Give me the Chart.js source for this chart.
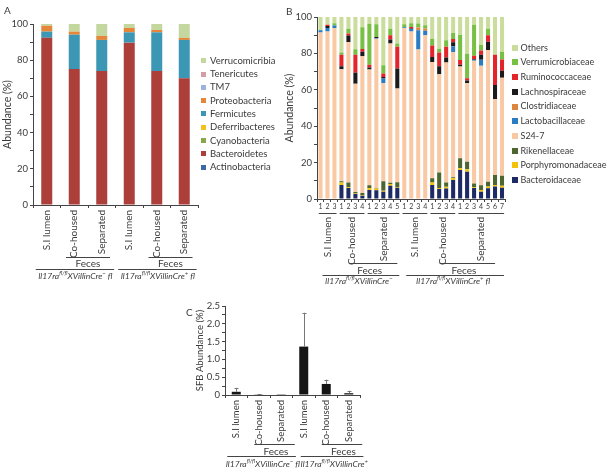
<!DOCTYPE html>
<html><head><meta charset="utf-8">
<script src="https://cdn.jsdelivr.net/npm/chart.js@4.4.0/dist/chart.umd.min.js"></script>
<style>
html,body{margin:0;padding:0;background:#fff;width:611px;height:470px;overflow:hidden}
canvas{position:absolute;display:block}
</style></head><body>
<canvas id="ca" width="280" height="295" style="left:0;top:0"></canvas>
<canvas id="cb" width="331" height="295" style="left:280px;top:0"></canvas>
<canvas id="cc" width="200" height="175" style="left:180px;top:295px"></canvas>
<script>
// ===== Panel A data (phylum level, % abundance) =====
const groupsA = ["S.I lumen","Co-housed","Separated","S.I lumen","Co-housed","Separated"];
const phylaA = ["Actinobacteria","Bacteroidetes","Cyanobacteria","Deferribacteres","Fermicutes","Proteobacteria","TM7","Tenericutes","Verrucomicribia"];
const actinobacteria  = [0,0,0,0,0,0];
const bacteroidetes   = [92.4,75.1,74.0,89.7,74.0,70.0];
const cyanobacteria   = [0,0,0,0,0,0];
const deferribacteres = [0,0,0,0,0,0];
const fermicutes      = [3.4,19.0,17.2,5.7,21.4,21.2];
const proteobacteria  = [3.2,1.7,2.2,2.4,1.3,1.1];
const tm7             = [0,0,0,0,0,0];
const tenericutes     = [0,0,0,0,0,0];
const verrucomicrobia = [1.0,4.2,6.6,2.2,3.3,7.7];
const yTicksA = [0,20,40,60,80,100];

// ===== Panel B data (family level, % abundance) =====
const sampleLabelsB = ["1","2","3","1","2","3","4","1","2","3","4","5","1","2","3","4","1","2","3","4","1","2","3","4","5","6","7"];
const groupNamesB = ["S.I lumen","Co-housed","Separated","S.I lumen","Co-housed","Separated"];
const groupSizesB = [3,4,5,4,4,7];
const familiesB = ["Bacteroidaceae","Porphyromonadaceae","Rikenellaceae","S24-7","Lactobacillaceae","Clostridiaceae","Lachnospiraceae","Ruminococcaceae","Verrumicrobiaceae","Others"];
const bacteroidaceae     = [0,0,0, 7.7,6,2.8,1.8, 4.9,4.8,4,7.3,6.2, 0,0,0,0, 7.7,5.5,5.8,10.5, 16,15,6,4,5.9,6.8,6.2];
const porphyromonadaceae = [0,0,0, 1.3,0.5,0.2,0.3, 1.2,1,0.5,0.9,0.4, 0,0,0,0, 1.3,0.5,0.9,1, 0.9,1.3,0.5,0.9,0.9,0.9,1.1];
const rikenellaceae      = [0,0,0, 0.8,2.5,0.8,1.2, 1.4,0.2,5.3,0.7,2.6, 0,0,0,0, 2.4,8.5,2.3,0.5, 5.5,4.2,2,2.7,2.7,5.5,5.5];
const s24_7              = [91.5,92,94, 61.5,77.3,59.5,75.2, 63.6,82,54,76.5,51.5, 94,92,82.1,90, 63.9,54,66,68.6, 50.4,43.3,67.5,65.6,72.3,41.8,53.8];
const lactobacillaceae   = [1.2,2,1.3, 0,0,0,0, 0,0.4,2.4,0,0, 0.4,1.4,10.6,2.4, 0,0,0,3.3, 0,0,0.5,3.3,0,0,0];
const clostridiaceae     = [0,0,0, 0,0,0,0, 0,0,0,0,0, 0,0,1.5,1.3, 0,0,0,0, 0,0,0,0,0,0,0];
const lachnospiraceae    = [0,1,0, 1.6,3.6,6,2.4, 1.1,0.6,0.9,2.2,11, 0,0.3,0,0, 2.7,4.5,2.7,2.2, 0.9,1.3,0.4,2.7,4.6,7.7,3.8];
const ruminococcaceae    = [0,0.7,0, 6.4,1,10,1.5, 1.6,0,1.8,2.4,11.9, 0,0.8,0,0, 6.4,7.5,6,1.8, 2.7,1.3,1.8,2.4,3.6,16.5,6.2];
const verrumicrobiaceae  = [0.3,0,1.2, 1.2,2.7,3,12, 22.5,7,4.6,3.6,1.8, 1.6,2,2.2,1.8, 3.7,2,3.5,3.3, 13.7,13.4,17,3,3.6,0,4.3];
const others             = [7,4.3,3.5, 19.5,6.4,17.7,5.6, 3.7,4,26.5,6.4,14.6, 4,3.5,3.6,4.5, 11.9,17.5,12.8,8.8, 9.9,20.2,4.3,15.4,6.4,20.8,19.1];
const yTicksB = [0,20,40,60,80,100];

// ===== Panel C data (SFB abundance, mean and upper error) =====
const groupsC = ["S.I lumen","Co-housed","Separated","S.I lumen","Co-housed","Separated"];
const sfbMean = [0.09,0.02,0.005,1.36,0.31,0.05];
const sfbErr  = [0.11,0.01,0,0.95,0.12,0.07];
const yTicksC = [0,0.5,1.0,1.5,2.0,2.5];

// ===== styling =====
const FONT = "Lato, 'Noto Sans', sans-serif";
const TXT = '#3a3a3a';
const AX = '#444';
const colorsA = ['#3d6aa6','#ad3f3b','#86a84a','#f2c21b','#3b97b3','#e5863a','#9db2de','#d49ea6','#c4d79f'];
const colorsB = ['#1e2a66','#f4c20d','#4d6630','#f8c9a4','#2a7cc3','#dc8640','#1b1b1b','#e3242b','#78c043','#cadd9c'];

const seriesA = [actinobacteria,bacteroidetes,cyanobacteria,deferribacteres,fermicutes,proteobacteria,tm7,tenericutes,verrucomicrobia];
const seriesB = [bacteroidaceae,porphyromonadaceae,rikenellaceae,s24_7,lactobacillaceae,clostridiaceae,lachnospiraceae,ruminococcaceae,verrumicrobiaceae,others];

const genoMinus = [["Il17ra",8.5,0],["fl/fl",5.5,-3],["XVillinCre",8.5,0],["\u2212",6,-3],[" fl",8.5,0]];
const genoPlus  = [["Il17ra",8.5,0],["fl/fl",5.5,-3],["XVillinCre",8.5,0],["+",6,-3],[" fl",8.5,0]];

// ===== helpers =====
function rotText(ctx, text, x, y, size){
  ctx.save(); ctx.translate(x,y); ctx.rotate(-Math.PI/2);
  ctx.font = size+'px '+FONT; ctx.textAlign='right'; ctx.textBaseline='middle'; ctx.fillStyle=TXT;
  ctx.fillText(text,0,0); ctx.restore();
}
function rotTitle(ctx, text, x, y, size){
  ctx.save(); ctx.translate(x,y); ctx.rotate(-Math.PI/2);
  ctx.font = size+'px '+FONT; ctx.textAlign='center'; ctx.textBaseline='middle'; ctx.fillStyle=TXT;
  ctx.fillText(text,0,0); ctx.restore();
}
function hline(ctx,x1,x2,y){
  ctx.save(); ctx.strokeStyle=AX; ctx.lineWidth=1; ctx.beginPath();
  ctx.moveTo(x1,Math.round(y)+0.5); ctx.lineTo(x2,Math.round(y)+0.5); ctx.stroke(); ctx.restore();
}
function ctext(ctx,text,x,y,size){
  ctx.save(); ctx.font=size+'px '+FONT; ctx.textAlign='center'; ctx.textBaseline='middle'; ctx.fillStyle=TXT;
  ctx.fillText(text,x,y); ctx.restore();
}
function rich(ctx, parts, cx, y){
  ctx.save(); let w=0; const ws=[];
  parts.forEach(p=>{ctx.font='italic '+p[1]+'px '+FONT; const m=ctx.measureText(p[0]).width; ws.push(m); w+=m;});
  let x=cx-w/2; ctx.fillStyle=TXT; ctx.textBaseline='middle'; ctx.textAlign='left';
  parts.forEach((p,i)=>{ctx.font='italic '+p[1]+'px '+FONT; ctx.fillText(p[0],x,y+p[2]); x+=ws[i];});
  ctx.restore();
}
function drawLegend(ctx, names, colors, x, y0, dy, box, gap, size){
  ctx.save();
  for(let k=names.length-1, r=0; k>=0; k--, r++){
    const y=y0+r*dy;
    ctx.fillStyle=colors[k]; ctx.fillRect(x, Math.round(y-box/2), box, box);
    ctx.fillStyle=TXT; ctx.font=size+'px '+FONT; ctx.textAlign='left'; ctx.textBaseline='middle';
    ctx.fillText(names[k], x+box+gap, y);
  }
  ctx.restore();
}
function letter(ctx,t,x,y){ctx.save();ctx.font='10px '+FONT;ctx.fillStyle=TXT;ctx.textBaseline='middle';ctx.fillText(t,x,y);ctx.restore();}

function baseScales(xh, yw, yopts){
  return {
    x:{stacked:true, offset:true,
       grid:{drawOnChartArea:false, tickLength:3, color:AX, offset:true},
       border:{color:AX},
       ticks:{display:false},
       afterFit(s){s.height=xh;}},
    y:Object.assign({stacked:true,
       grid:{drawOnChartArea:false, tickLength:3, color:AX},
       border:{color:AX},
       afterFit(s){s.width=yw;}}, yopts)
  };
}

// ===== Panel A =====
const annA = {id:'annA', afterDraw(chart){
  const ctx=chart.ctx, xs=chart.scales.x, ca=chart.chartArea;
  const cw = xs.getPixelForValue(1)-xs.getPixelForValue(0);
  const b = ca.bottom;
  letter(ctx,'A',4,11);
  rotTitle(ctx,'Abundance (%)',8,(ca.top+ca.bottom)/2,10.5);
  groupsA.forEach((g,i)=>rotText(ctx,g,xs.getPixelForValue(i),b+5,10));
  [0,3].forEach(s=>{
    const x0=xs.getPixelForValue(s), x1=xs.getPixelForValue(s+1), x2=xs.getPixelForValue(s+2);
    hline(ctx,x1-0.3*cw,x2+0.3*cw,b+52);
    ctext(ctx,'Feces',(x1+x2)/2,b+58.5,10);
    hline(ctx,x0-0.4*cw,x2+0.45*cw,b+64);
    rich(ctx, s===0?genoMinus:genoPlus, (x0+x2)/2+1, b+71);
  });
  drawLegend(ctx, phylaA, colorsA, ca.right+3, 60.7, 13.3, 5, 4, 9.5);
}};
new Chart(document.getElementById('ca'), {
  type:'bar',
  data:{labels:groupsA, datasets:phylaA.map((n,i)=>({label:n,data:seriesA[i],backgroundColor:colorsA[i],borderWidth:0,barPercentage:0.4,categoryPercentage:1}))},
  options:{responsive:false, animation:false, events:[],
    layout:{padding:{left:0,top:24,right:82,bottom:0}},
    plugins:{legend:{display:false},tooltip:{enabled:false}},
    scales:baseScales(90,33,{min:0,max:100,
      ticks:{stepSize:10,autoSkip:false,font:{family:FONT,size:9.5},color:TXT,padding:2,
        callback:v=>yTicksA.includes(v)?String(v):''}})
  },
  plugins:[annA]
});

// ===== Panel B =====
const annB = {id:'annB', afterDraw(chart){
  const ctx=chart.ctx, xs=chart.scales.x, ca=chart.chartArea;
  const cw = xs.getPixelForValue(1)-xs.getPixelForValue(0);
  const b = ca.bottom;
  letter(ctx,'B',6,12);
  rotTitle(ctx,'Abundance (%)',10,(ca.top+ca.bottom)/2,10.5);
  let start=0; const spans=[];
  groupSizesB.forEach((n,gi)=>{
    const x0=xs.getPixelForValue(start), x1=xs.getPixelForValue(start+n-1);
    spans.push([x0,x1]);
    hline(ctx,x0-0.25*cw,x1+0.3*cw,b+14);
    rotText(ctx,groupNamesB[gi],(x0+x1)/2,b+18,10);
    start+=n;
  });
  [0,3].forEach(s=>{
    const co=spans[s+1], se=spans[s+2], si=spans[s];
    const cc=(co[0]+co[1])/2, sc=(se[0]+se[1])/2;
    hline(ctx,cc-3,sc+14,b+64);
    ctext(ctx,'Feces',(cc+sc)/2+2,b+71.5,10);
    hline(ctx,si[0]+2,se[1]+2,b+76);
    rich(ctx, s===0?genoMinus.slice(0,4):genoPlus, (si[0]+se[1])/2, b+82.5);
  });
  drawLegend(ctx, familiesB, colorsB, ca.right+6.5, 47.7, 14.7, 6, 2.5, 9);
}};
const scB = baseScales(96,37,{min:0,max:100,
  ticks:{stepSize:10,autoSkip:false,font:{family:FONT,size:9.5},color:TXT,padding:2,
    callback:v=>yTicksB.includes(v)?String(v):''}});
scB.x.ticks={display:true,autoSkip:false,maxRotation:0,minRotation:0,font:{family:FONT,size:7},color:TXT,padding:1};
new Chart(document.getElementById('cb'), {
  type:'bar',
  data:{labels:sampleLabelsB, datasets:familiesB.map((n,i)=>({label:n,data:seriesB[i],backgroundColor:colorsB[i],borderWidth:0,barPercentage:0.58,categoryPercentage:1}))},
  options:{responsive:false, animation:false, events:[],
    layout:{padding:{left:0,top:17,right:105.5,bottom:0}},
    plugins:{legend:{display:false},tooltip:{enabled:false}},
    scales:scB
  },
  plugins:[annB]
});

// ===== Panel C =====
const annC = {id:'annC',
 afterDatasetsDraw(chart){
  const ctx=chart.ctx, ys=chart.scales.y, meta=chart.getDatasetMeta(0);
  ctx.save(); ctx.strokeStyle='#777'; ctx.lineWidth=1;
  sfbMean.forEach((m,i)=>{
    if(!sfbErr[i]) return;
    const x=Math.round(meta.data[i].x)+0.5, y0=ys.getPixelForValue(m), y1=ys.getPixelForValue(m+sfbErr[i]);
    ctx.beginPath(); ctx.moveTo(x,y0); ctx.lineTo(x,y1); ctx.moveTo(x-2,Math.round(y1)+0.5); ctx.lineTo(x+2,Math.round(y1)+0.5); ctx.stroke();
  });
  ctx.restore();
 },
 afterDraw(chart){
  const ctx=chart.ctx, xs=chart.scales.x, ca=chart.chartArea;
  const cw = xs.getPixelForValue(1)-xs.getPixelForValue(0);
  const b = ca.bottom;
  letter(ctx,'C',6,18);
  rotTitle(ctx,'SFB Abundance (%)',ca.left-25,(ca.top+ca.bottom)/2,9.5);
  groupsC.forEach((g,i)=>rotText(ctx,g,xs.getPixelForValue(i),b+5,9.5));
  [0,3].forEach(s=>{
    const x0=xs.getPixelForValue(s), x1=xs.getPixelForValue(s+1), x2=xs.getPixelForValue(s+2);
    hline(ctx,x1-0.2*cw,x2+0.6*cw,b+49);
    ctext(ctx,'Feces',(x1+x2)/2+6,b+56.5,10);
    hline(ctx,x0-0.4*cw+(s?6:0),x2+0.65*cw,b+61);
    rich(ctx, s===0?genoMinus:genoPlus.slice(0,4), (x0+x2)/2+(s?8:4), b+69);
  });
 }};
new Chart(document.getElementById('cc'), {
  type:'bar',
  data:{labels:groupsC, datasets:[{label:'SFB',data:sfbMean,backgroundColor:'#151515',borderWidth:0,barPercentage:0.4,categoryPercentage:1}]},
  options:{responsive:false, animation:false, events:[],
    layout:{padding:{left:0,top:11,right:20,bottom:0}},
    plugins:{legend:{display:false},tooltip:{enabled:false}},
    scales:baseScales(75,45,{stacked:false,min:0,max:2.5,
      ticks:{stepSize:0.25,autoSkip:false,font:{family:FONT,size:9.5},color:TXT,padding:2,
        callback:v=>{const t=yTicksC.find(q=>Math.abs(q-v)<1e-6); return t===undefined?'':(t===0?'0':t.toFixed(1));}}})
  },
  plugins:[annC]
});
</script>
</body></html>
